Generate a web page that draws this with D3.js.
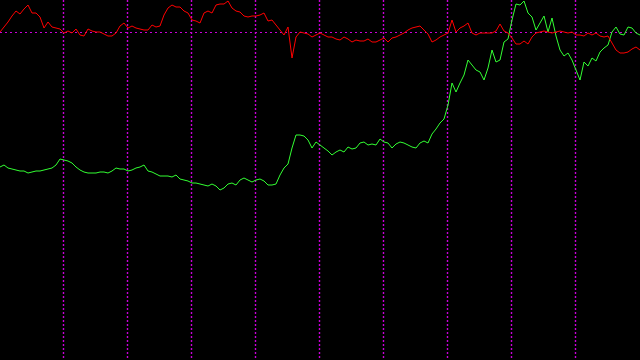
<!DOCTYPE html>
<html>
<head>
<meta charset="utf-8">
<script src="https://cdn.jsdelivr.net/npm/d3@7"></script>
<style>
  html, body { margin: 0; padding: 0; background: #000; }
  svg { display: block; }
</style>
</head>
<body>
<div id="chart"></div>
<script>
// values are offsets from the reference level (0 = dotted line)
const redSeries = [
  0, 5, 10, 16, 21, 18, 23, 27, 19, 19, 15, 4, 10, 5, 4, 3,
  -1, 1, -1, 3, -3, -4, 3, 1, 0, 0, -2, -4, -4, -1, 6, 9,
  4, 6, 4, 3, 2, 2, 7, 5, 6, 17, 24, 27, 25, 25, 21, 19,
  12, 11, 9, 19, 21, 19, 27, 28, 28, 31, 24, 21, 20, 16, 15, 16,
  16, 17, 19, 11, 12, 7, 2, -3, 5, -26, -5, 0, -1, -2, -5, -3,
  -1, -3, -5, -5, -7, -8, -5, -7, -10, -8, -9, -9, -7, -10, -10, -8,
  -6, -10, -6, -5, -3, -1, 2, 4, 5, 6, 2, -2, -10, -8, -5, -3,
  -1, 12, 0, 4, 6, 9, -1, -3, -1, -1, -1, -1, 1, 8, 1, -1,
  -6, -12, -12, -9, -12, -5, -1, 0, 1, 0, -1, 0, 1, 0, -1, 0,
  -3, -3, -4, -1, -3, -1, -4, -5, -4, -11, -18, -21, -21, -20, -17, -15,
  -18
];

const greenSeries = [
  -135, -133, -136, -137, -138, -139, -139, -141, -140, -139, -139, -138, -137, -136, -133, -127,
  -128, -129, -131, -135, -138, -140, -141, -141, -141, -140, -140, -141, -139, -136, -137, -137,
  -139, -138, -136, -135, -133, -139, -140, -142, -144, -144, -144, -145, -143, -147, -148, -149,
  -151, -151, -152, -153, -154, -152, -154, -158, -156, -152, -151, -153, -148, -146, -148, -150,
  -148, -147, -149, -153, -153, -152, -143, -136, -132, -116, -103, -103, -104, -108, -116, -110,
  -113, -116, -119, -123, -120, -118, -120, -115, -117, -116, -111, -110, -113, -112, -113, -107,
  -110, -111, -116, -112, -110, -111, -113, -115, -116, -111, -109, -111, -102, -97, -91, -87,
  -73, -51, -60, -51, -43, -28, -33, -38, -40, -48, -36, -18, -30, -28, -10, -7,
  12, 28, 27, 31, 19, 15, 2, 9, 16, 0, 14, -4, -18, -24, -21, -28,
  -38, -48, -30, -34, -26, -29, -20, -16, -13, 0, 5, -2, -3, 5, 4, -1,
  -3
];

const gridTicks = [16, 32, 48, 64, 80, 96, 112, 128, 144];
const referenceLevel = 0;

const width = 640, height = 360;
const gridColor = "#c800d8";

const svg = d3.select("#chart").append("svg")
  .attr("width", width)
  .attr("height", height)
  .style("background", "#000");

const x = d3.scaleLinear().domain([0, redSeries.length - 1]).range([0, width]);
const y = d3.scaleLinear().domain([-328, 32]).range([height, 0]);

// dotted grid, vertical every 16 samples + the reference level
svg.append("g")
  .selectAll("line")
  .data(gridTicks)
  .join("line")
    .attr("x1", d => x(d) - 0.5)
    .attr("x2", d => x(d) - 0.5)
    .attr("y1", 0)
    .attr("y2", height)
    .attr("stroke", gridColor)
    .attr("stroke-width", 1.4)
    .attr("stroke-dasharray", "2,2");

svg.append("line")
  .attr("x1", 0)
  .attr("x2", width)
  .attr("y1", y(referenceLevel) + 0.5)
  .attr("y2", y(referenceLevel) + 0.5)
  .attr("stroke", gridColor)
  .attr("stroke-dasharray", "2,3");

const line = d3.line()
  .x((d, i) => x(i))
  .y(d => y(d));

svg.append("path")
  .datum(greenSeries)
  .attr("fill", "none")
  .attr("stroke", "#33ff33")
  .attr("stroke-width", 1)
  .attr("d", line);

svg.append("path")
  .datum(redSeries)
  .attr("fill", "none")
  .attr("stroke", "#ff0000")
  .attr("stroke-width", 1)
  .attr("d", line);
</script>
</body>
</html>
